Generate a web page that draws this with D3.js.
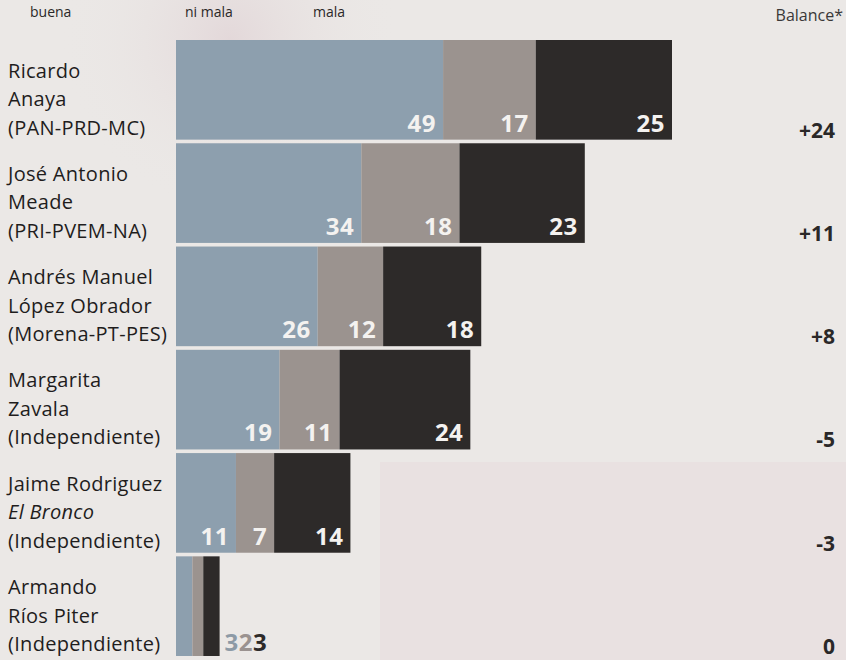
<!DOCTYPE html>
<html>
<head>
<meta charset="utf-8">
<script src="https://cdn.jsdelivr.net/npm/d3@7"></script>
<style>
  html, body { margin: 0; padding: 0; background: #ebe8e6; }
  svg { display: block; }
</style>
</head>
<body>
<svg id="chart" width="846" height="660"></svg>
<script>
// ---- data ----
const candidates = [
  ["Ricardo", "Anaya", "(PAN-PRD-MC)"],
  ["José Antonio", "Meade", "(PRI-PVEM-NA)"],
  ["Andrés Manuel", "López Obrador", "(Morena-PT-PES)"],
  ["Margarita", "Zavala", "(Independiente)"],
  ["Jaime Rodriguez", "El Bronco", "(Independiente)"],
  ["Armando", "Ríos Piter", "(Independiente)"]
];
const italicLines = [[], [], [], [], [1], []];
const buena = [49, 34, 26, 19, 11, 3];
const neutral = [17, 18, 12, 11, 7, 2];
const mala = [25, 23, 18, 24, 14, 3];
const seriesNames = ["buena", "ni mala", "mala"];
const balanceTitle = "Balance*";

// ---- layout ----
const svg = d3.select("#chart");
const colors = ["#8d9fae", "#9b938f", "#2d2a29"];
const labelColorsOutside = ["#8d9aa6", "#9a9290", "#2d2a29"];
const FONT = "Open Sans, sans-serif";

// background paper tone with faint bleed-through blotches
const defs = svg.append("defs");
const rg = defs.append("radialGradient").attr("id", "blot");
rg.append("stop").attr("offset", "0%").attr("stop-color", "#e2d6d8").attr("stop-opacity", 0.9);
rg.append("stop").attr("offset", "100%").attr("stop-color", "#ebe8e6").attr("stop-opacity", 0);
svg.append("rect").attr("width", 846).attr("height", 660).attr("fill", "#ebe8e6");
svg.append("circle").attr("cx", 230).attr("cy", 40).attr("r", 170).attr("fill", "url(#blot)");
svg.append("rect").attr("x", 380).attr("y", 462).attr("width", 466).attr("height", 198).attr("fill", "#e8dfe0").attr("opacity", 0.8);

const idx = d3.range(candidates.length);
const y = d3.scaleBand().domain(idx).range([40, 656]).paddingInner(0.035);
const x = d3.scaleLinear().domain([0, 91]).range([176, 672]);

const stackData = idx.map(i => ({ i, buena: buena[i], neutral: neutral[i], mala: mala[i] }));
const stack = d3.stack().keys(["buena", "neutral", "mala"])(stackData);

// bars
const layers = svg.append("g").selectAll("g").data(stack).join("g")
  .attr("fill", (d, k) => colors[k]);
layers.selectAll("rect").data(d => d).join("rect")
  .attr("x", d => x(d[0]))
  .attr("y", d => y(d.data.i))
  .attr("width", d => x(d[1]) - x(d[0]))
  .attr("height", y.bandwidth());

// value labels
stack.forEach((layer, k) => {
  layer.forEach(d => {
    const i = d.data.i;
    const v = d.data[layer.key];
    const base = y(i) + y.bandwidth() - 8;
    if (i === candidates.length - 1) return;
    svg.append("text")
      .attr("x", x(d[1]) - 7)
      .attr("y", base)
      .attr("text-anchor", "end")
      .attr("font-family", FONT)
      .attr("font-weight", 700)
      .attr("font-size", 24)
      .attr("letter-spacing", 0.5)
      .attr("fill", "#f4f2f0")
      .text(v);
  });
});

// outside labels for the tiny last bar
{
  const i = candidates.length - 1;
  const base = y(i) + y.bandwidth() - 5;
  const t = svg.append("text")
    .attr("x", x(buena[i] + neutral[i] + mala[i]) + 5)
    .attr("y", base)
    .attr("font-family", FONT)
    .attr("font-weight", 700)
    .attr("font-size", 24)
    .attr("letter-spacing", 0.5);
  [buena[i], neutral[i], mala[i]].forEach((v, k) => {
    t.append("tspan").attr("fill", labelColorsOutside[k]).text(v);
  });
}

// category labels
candidates.forEach((lines, i) => {
  const bottom = y(i) + y.bandwidth() - 5;
  const t = svg.append("text")
    .attr("font-family", FONT)
    .attr("font-size", 20)
    .attr("letter-spacing", 0.3)
    .attr("fill", "#1f1d1d");
  lines.forEach((ln, j) => {
    t.append("tspan")
      .attr("x", 8)
      .attr("y", bottom - (lines.length - 1 - j) * 28.5)
      .attr("font-style", italicLines[i].includes(j) ? "italic" : "normal")
      .text(ln);
  });
});

// balance column
svg.append("text")
  .attr("x", 843).attr("y", 21)
  .attr("text-anchor", "end")
  .attr("font-family", FONT)
  .attr("font-size", 16)
  .attr("fill", "#3a3838")
  .text(balanceTitle);

idx.forEach(i => {
  const b = buena[i] - mala[i];
  svg.append("text")
    .attr("x", 835)
    .attr("y", y(i) + y.bandwidth() - 2)
    .attr("text-anchor", "end")
    .attr("font-family", FONT)
    .attr("font-weight", 700)
    .attr("font-size", 21)
    .attr("fill", "#2a2828")
    .text(b > 0 ? "+" + b : String(b));
});

// header labels (top edge)
const headerX = [30, 185, 313];
seriesNames.forEach((s, k) => {
  svg.append("text")
    .attr("x", headerX[k]).attr("y", 17)
    .attr("font-family", FONT)
    .attr("font-size", 14)
    .attr("fill", "#2a2828")
    .text(s);
});
</script>
</body>
</html>
